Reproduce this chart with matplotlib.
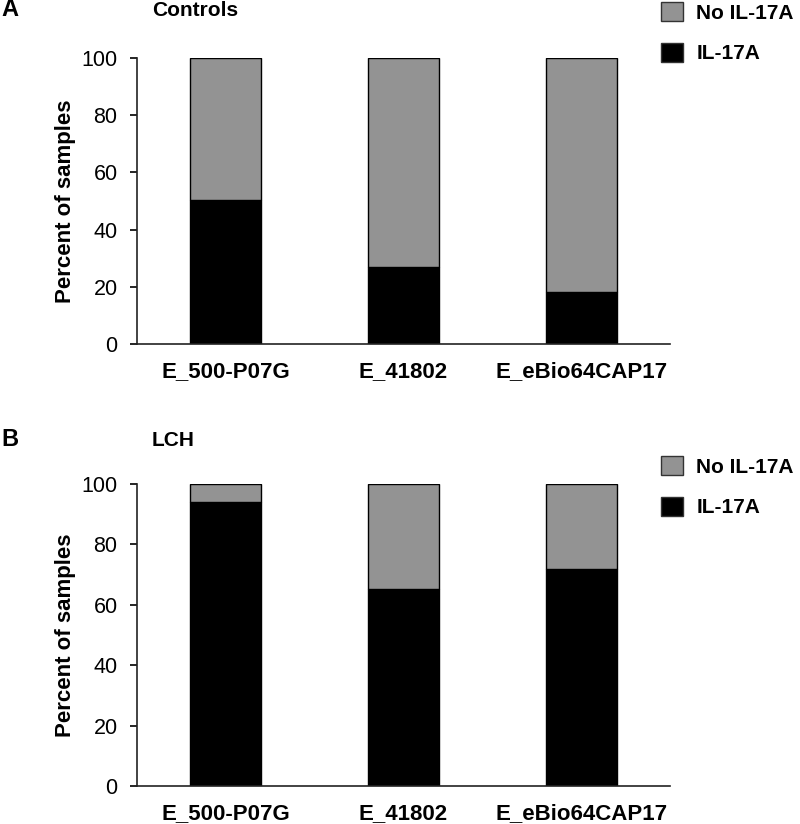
import matplotlib
matplotlib.use("Agg")
import matplotlib.pyplot as plt
from matplotlib.patches import Patch

plt.rcParams['font.family'] = ['Liberation Sans', 'DejaVu Sans']

categories = ["E_500-P07G", "E_41802", "E_eBio64CAP17"]
controls_il17a = [50.5, 27.0, 18.2]
lch_il17a = [94.0, 65.2, 72.0]
series_names = ["No IL-17A", "IL-17A"]
panel_titles = ["Controls", "LCH"]
panel_letters = ["A", "B"]
yticks = [0, 20, 40, 60, 80, 100]

GREY = "#939393"
W, H = 800, 824
fig = plt.figure(figsize=(W / 100, H / 100), dpi=100)

def px_axes(x0, y0, x1, y1):
    return fig.add_axes([x0 / W, 1 - y1 / H, (x1 - x0) / W, (y1 - y0) / H])

# (values, axes box px, title y px, legend top y px)
panels = [
    (controls_il17a, (137, 58, 670, 344), 10, 2),
    (lch_il17a, (137, 484, 670, 786), 440, 456),
]

for i, (vals, box, title_y, leg_y) in enumerate(panels):
    ax = px_axes(*box)
    x = list(range(len(categories)))
    rest = [100 - v for v in vals]
    ax.bar(x, vals, width=0.4, color="black", edgecolor="black", linewidth=1.0, zorder=2)
    ax.bar(x, rest, width=0.4, bottom=vals, color=GREY, edgecolor="black", linewidth=1.0, zorder=2)
    ax.set_xlim(-0.5, 2.5)
    ax.set_ylim(0, 100)
    ax.set_yticks(yticks)
    ax.set_yticklabels([str(t) for t in yticks], fontsize=15.5)
    ax.set_xticks(x)
    ax.set_xticklabels(categories, fontsize=16, fontweight="bold")
    ax.tick_params(axis="x", length=0, pad=12)
    ax.tick_params(axis="y", length=5, width=1.2, direction="out", pad=9)
    for s in ["top", "right"]:
        ax.spines[s].set_visible(False)
    for s in ["left", "bottom"]:
        ax.spines[s].set_linewidth(1.2)
        ax.spines[s].set_color("#222222")
    ax.set_ylabel("Percent of samples", fontsize=16, fontweight="bold")
    ax.yaxis.set_label_coords((76 - box[0]) / (box[2] - box[0]), 0.5)

    fig.text(1 / W, 1 - title_y / H, panel_letters[i], fontsize=17, fontweight="bold",
             va="center", ha="left")
    fig.text(152 / W, 1 - title_y / H, panel_titles[i], fontsize=15, fontweight="bold",
             va="center", ha="left")
    handles = [Patch(facecolor=GREY, edgecolor="#333333", label=series_names[0]),
               Patch(facecolor="black", edgecolor="#333333", label=series_names[1])]
    fig.legend(handles=handles, loc="upper left",
               bbox_to_anchor=(661 / W, 1 - leg_y / H),
               frameon=False, prop={"size": 15, "weight": "bold"},
               handlelength=1.05, handleheight=1.05, handletextpad=0.65,
               labelspacing=0.95, borderaxespad=0, borderpad=0)

fig.savefig("out.png", dpi=100)
